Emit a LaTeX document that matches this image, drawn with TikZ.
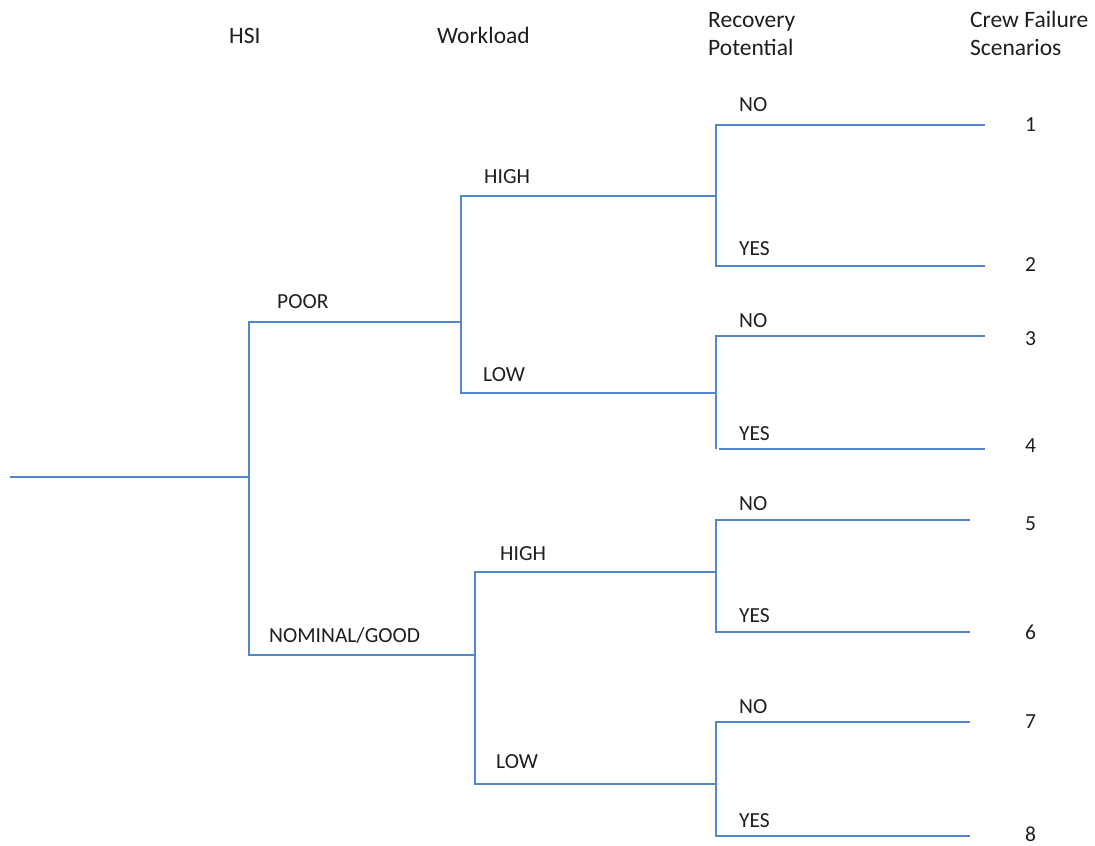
\documentclass[tikz,border=0pt]{standalone}
\usepackage{fontspec}
\setmainfont{Carlito}
\definecolor{branchblue}{HTML}{5286CF}
\definecolor{inkgray}{HTML}{1E1E1E}
\begin{document}
\begin{tikzpicture}[x=1pt,y=-1pt,
  branch/.style={draw=branchblue,line width=2.4pt,line cap=butt,line join=miter},
  lbl/.style={anchor=base west,inner sep=0pt,text=inkgray,font=\fontsize{21.5}{26}\selectfont},
  head/.style={anchor=north west,inner sep=0pt,align=left,text=inkgray,font=\fontsize{23.5}{28}\selectfont}]
\useasboundingbox (0,0) rectangle (1095,846);

% column headings
\node[head] (hHSI) at (229,28) {HSI};
\node[head] (hWork) at (437,27) {Workload};
\node[head] (hRec) at (708,12) {Recovery\\Potential};
\node[head] (hCrew) at (970,11) {Crew Failure\\Scenarios};

% junction points of the event tree
\coordinate (start) at (10,477);
\coordinate (hsi) at (249,477);
\coordinate (poorA) at (249,322);
\coordinate (poorB) at (461,322);
\coordinate (nomA) at (249,655);
\coordinate (nomB) at (475,655);

\coordinate (pHa) at (461,196);  \coordinate (pHb) at (716,196);
\coordinate (pLa) at (461,393);  \coordinate (pLb) at (716,393);
\coordinate (nHa) at (475,572);  \coordinate (nHb) at (716,572);
\coordinate (nLa) at (475,784);  \coordinate (nLb) at (716,784);

\coordinate (r1a) at (716,125);  \coordinate (r1b) at (985,125);
\coordinate (r2a) at (716,266);  \coordinate (r2b) at (985,266);
\coordinate (r3a) at (716,336);  \coordinate (r3b) at (985,336);
\coordinate (r4v) at (716,449);
\coordinate (r4a) at (719,449);  \coordinate (r4b) at (985,449);
\coordinate (r5a) at (716,520);  \coordinate (r5b) at (970,520);
\coordinate (r6a) at (716,632);  \coordinate (r6b) at (970,632);
\coordinate (r7a) at (716,722);  \coordinate (r7b) at (970,722);
\coordinate (r8a) at (716,836);  \coordinate (r8b) at (970,836);

% HSI split
\draw[branch] (start) -- (hsi);
\draw[branch] (poorB) -- (poorA) -- (nomA) -- (nomB);

% workload splits
\draw[branch] (pHb) -- (pHa) -- (pLa) -- (pLb);
\draw[branch] (nHb) -- (nHa) -- (nLa) -- (nLb);

% recovery splits
\draw[branch] (r1b) -- (r1a) -- (r2a) -- (r2b);
\draw[branch] (r3b) -- (r3a) -- (r4v);
\draw[branch] (r4a) -- (r4b);
\draw[branch] (r5b) -- (r5a) -- (r6a) -- (r6b);
\draw[branch] (r7b) -- (r7a) -- (r8a) -- (r8b);

% branch labels
\node[lbl] (poor) at (277,308) {POOR};
\node[lbl] (nominal) at (269,642) {NOMINAL/GOOD};
\node[lbl] (highP) at (484,183) {HIGH};
\node[lbl] (lowP) at (483,381) {LOW};
\node[lbl] (highN) at (500,560) {HIGH};
\node[lbl] (lowN) at (496,768) {LOW};
\node[lbl] (no1) at (739,111) {NO};
\node[lbl] (yes1) at (739,255) {YES};
\node[lbl] (no2) at (739,327) {NO};
\node[lbl] (yes2) at (739,440) {YES};
\node[lbl] (no3) at (739,510) {NO};
\node[lbl] (yes3) at (739,622) {YES};
\node[lbl] (no4) at (739,713) {NO};
\node[lbl] (yes4) at (739,827) {YES};

% scenario numbers
\node[lbl] (s1) at (1025,131) {1};
\node[lbl] (s2) at (1025,271) {2};
\node[lbl] (s3) at (1025,345) {3};
\node[lbl] (s4) at (1025,452) {4};
\node[lbl] (s5) at (1025,530) {5};
\node[lbl] (s6) at (1025,639) {6};
\node[lbl] (s7) at (1025,728) {7};
\node[lbl] (s8) at (1025,841) {8};
\end{tikzpicture}
\end{document}
